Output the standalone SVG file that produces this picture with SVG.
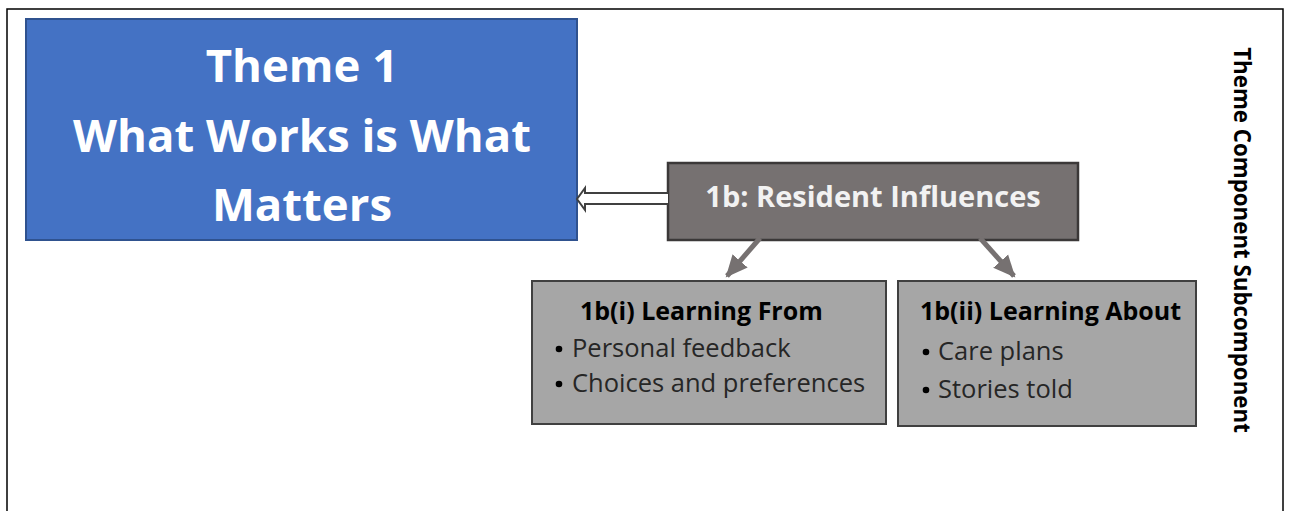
<svg xmlns="http://www.w3.org/2000/svg" width="1290" height="511" viewBox="0 0 1290 511">
  <style>
    .frame { fill: #ffffff; stroke: #000000; stroke-width: 1.5; }
    .theme { fill: #4472C4; stroke: #2F528F; stroke-width: 2; }
    .comp { fill: #767171; stroke: #3B3838; stroke-width: 2.5; }
    .sub { fill: #A6A6A6; stroke: #404040; stroke-width: 2; }
    text { font-family: "Open Sans", Lato, "Liberation Sans", sans-serif; }
    .t-theme { fill: #ffffff; font-weight: bold; font-size: 45.5px; text-anchor: middle; }
    .t-comp { fill: #F2F2F2; font-weight: bold; font-size: 29px; text-anchor: middle; }
    .t-head { fill: #000000; font-weight: bold; font-size: 25px; }
    .t-item { fill: #262626; font-size: 25.5px; }
    .bul { fill: #000000; }
    .t-side { fill: #000000; font-weight: bold; font-size: 22.3px; text-anchor: middle; }
    .hollow { fill: #ffffff; stroke: #404040; stroke-width: 2; stroke-linejoin: miter; }
    .link { stroke: #767171; stroke-width: 5; fill: none; }
  </style>
  <defs>
    <marker id="head" markerUnits="userSpaceOnUse" markerWidth="24" markerHeight="24" refX="20" refY="12" orient="auto" viewBox="0 0 24 24">
      <path d="M0,2 L22,12 L0,22 Z" fill="#767171"/>
    </marker>
  </defs>

  <rect class="frame" x="7" y="9" width="1276" height="520"/>

  <g id="theme1">
    <rect class="theme" x="26" y="19" width="551" height="221"/>
    <text class="t-theme" x="302" y="82">Theme 1</text>
    <text class="t-theme" x="302" y="152">What Works is What</text>
    <text class="t-theme" x="302" y="221">Matters</text>
  </g>

  <g id="component-1b">
    <rect class="comp" x="668" y="163" width="410" height="77"/>
    <text class="t-comp" x="873" y="207">1b: Resident Influences</text>
  </g>

  <g id="sub-1b-i">
    <rect class="sub" x="532" y="281" width="354" height="143"/>
    <text class="t-head" x="580" y="320">1b(i) Learning From</text>
    <circle class="bul" cx="559" cy="349" r="3.3"/>
    <text class="t-item" x="572" y="357">Personal feedback</text>
    <circle class="bul" cx="559" cy="384" r="3.3"/>
    <text class="t-item" x="572" y="392">Choices and preferences</text>
  </g>

  <g id="sub-1b-ii">
    <rect class="sub" x="898" y="281" width="298" height="145"/>
    <text class="t-head" x="920" y="320">1b(ii) Learning About</text>
    <circle class="bul" cx="926" cy="352" r="3.3"/>
    <text class="t-item" x="938" y="360">Care plans</text>
    <circle class="bul" cx="926" cy="390" r="3.3"/>
    <text class="t-item" x="938" y="398">Stories told</text>
  </g>

  <g id="side-label">
    <text class="t-side" transform="translate(1234,240) rotate(90)">Theme Component Subcomponent</text>
  </g>

  <g id="connectors">
    <path class="hollow" d="M668,193 L585,193 L585,188 L577,199 L585,210 L585,204 L668,204"/>
    <line class="link" x1="760" y1="238" x2="727" y2="276" marker-end="url(#head)"/>
    <line class="link" x1="980" y1="238" x2="1014" y2="276" marker-end="url(#head)"/>
  </g>
</svg>
